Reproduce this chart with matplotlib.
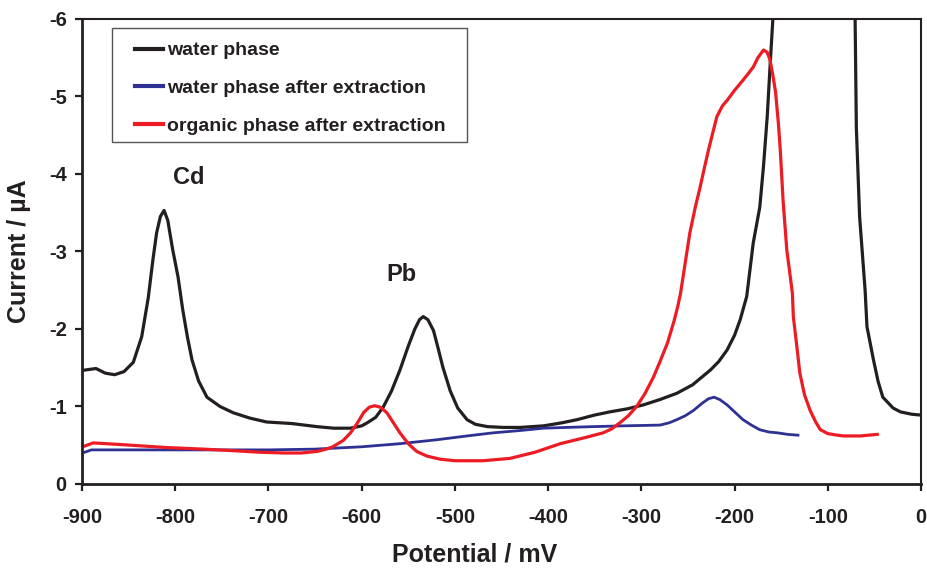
import matplotlib
matplotlib.use('Agg')
import matplotlib.pyplot as plt
from matplotlib.patches import Rectangle

plt.rcParams['font.family'] = ['Liberation Sans', 'DejaVu Sans']
plt.rcParams['font.weight'] = 'bold'
plt.rcParams['axes.unicode_minus'] = False

# water phase (black), values past -6 run off the top of the plot
water_x = [-897, -885, -875, -865, -855, -845, -836, -829, -824, -820, -816, -812,
           -808, -803, -797, -792, -787, -782, -775, -766, -752, -738, -720, -702,
           -675, -648, -630, -612, -600, -594, -585, -577, -568, -559, -550, -543,
           -538, -534, -529, -523, -518, -513, -505, -497, -487, -478, -465, -448,
           -430, -405, -385, -369, -350, -334, -315, -298, -280, -262, -245, -226,
           -217, -208, -200, -194, -187, -180, -173, -169, -165, -162, -159, -157,
           -115, -71, -69.4, -65.9, -60, -58, -51, -46, -41, -30, -22, -10, -1]
water_y = [-1.47, -1.49, -1.43, -1.41, -1.45, -1.57, -1.90, -2.40, -2.89, -3.24, -3.45, -3.53,
           -3.40, -3.04, -2.67, -2.25, -1.90, -1.60, -1.33, -1.12, -1.00, -0.92, -0.85, -0.80,
           -0.78, -0.74, -0.72, -0.72, -0.75, -0.79, -0.86, -0.99, -1.20, -1.47, -1.78, -2.00,
           -2.12, -2.16, -2.12, -1.98, -1.75, -1.51, -1.20, -0.98, -0.83, -0.77, -0.74, -0.73,
           -0.73, -0.75, -0.79, -0.83, -0.89, -0.93, -0.97, -1.02, -1.09, -1.17, -1.28, -1.47,
           -1.58, -1.73, -1.92, -2.12, -2.42, -3.11, -3.57, -4.10, -4.74, -5.38, -5.99, -6.3,
           -7.5, -6.3, -4.6, -3.45, -2.5, -2.03, -1.6, -1.32, -1.12, -0.98, -0.93, -0.90, -0.89]

# water phase after extraction (blue)
wext_x = [-897, -890, -860, -800, -750, -700, -650, -600, -559, -520, -487, -459,
          -430, -405, -380, -352, -320, -280, -270, -262, -253, -244, -235, -228,
          -222, -216, -208, -200, -191, -182, -173, -163, -154, -143, -132]
wext_y = [-0.41, -0.44, -0.44, -0.44, -0.44, -0.44, -0.45, -0.48, -0.52, -0.57, -0.62, -0.66,
          -0.69, -0.72, -0.73, -0.74, -0.75, -0.76, -0.79, -0.83, -0.88, -0.95, -1.04, -1.10,
          -1.12, -1.09, -1.02, -0.93, -0.83, -0.76, -0.70, -0.67, -0.66, -0.64, -0.63]

# organic phase after extraction (red)
org_x = [-897, -888, -860, -809, -770, -738, -710, -684, -665, -648, -638, -631,
         -620, -612, -605, -598, -592, -586, -580, -573, -566, -559, -550, -541,
         -530, -516, -500, -484, -470, -441, -414, -387, -360, -341, -332, -323,
         -314, -305, -296, -287, -280, -272, -265, -261, -258, -253, -248, -242,
         -237, -232, -228, -223, -219, -213, -208, -200, -191, -185, -180, -175,
         -169, -165, -162, -159, -156, -153, -151, -148, -144, -140, -138, -137,
         -133, -130, -125, -119, -113, -108, -100, -90, -83, -65, -47]
org_y = [-0.49, -0.53, -0.51, -0.47, -0.45, -0.43, -0.41, -0.40, -0.40, -0.42, -0.45, -0.48,
         -0.56, -0.66, -0.78, -0.92, -0.99, -1.01, -0.99, -0.92, -0.79, -0.66, -0.52, -0.42,
         -0.36, -0.32, -0.30, -0.30, -0.30, -0.33, -0.41, -0.52, -0.60, -0.66, -0.71, -0.79,
         -0.88, -1.00, -1.17, -1.38, -1.58, -1.82, -2.10, -2.29, -2.46, -2.85, -3.24, -3.58,
         -3.83, -4.10, -4.31, -4.55, -4.74, -4.88, -4.95, -5.08, -5.21, -5.30, -5.38, -5.50,
         -5.60, -5.57, -5.47, -5.28, -5.05, -4.65, -4.31, -3.66, -3.02, -2.65, -2.46, -2.16,
         -1.75, -1.43, -1.15, -0.95, -0.80, -0.70, -0.65, -0.63, -0.62, -0.62, -0.64]

series_labels = ['water phase', 'water phase after extraction', 'organic phase after extraction']
x_ticks = list(range(-900, 1, 100))
y_ticks = [0, -1, -2, -3, -4, -5, -6]

INK = '#231f20'
BLUE = '#2e3192'
RED = '#ed1c24'

fig = plt.figure(figsize=(9.28, 5.70), dpi=100)
ax = fig.add_axes([0.0884, 0.1509, 0.9041, 0.8158])

ax.plot(water_x, water_y, color=INK, lw=2.3, label=series_labels[0])
ax.plot(wext_x, wext_y, color=BLUE, lw=2.0, label=series_labels[1])
ax.plot(org_x, org_y, color=RED, lw=2.3, label=series_labels[2])

ax.set_xlim(-900, 0)
ax.set_ylim(0, -6)
ax.set_xticks(x_ticks)
ax.set_yticks(y_ticks)
ax.tick_params(axis='both', direction='out', length=5, width=1.6, colors=INK, labelsize=14.5)
ax.tick_params(axis='x', pad=12)
ax.tick_params(axis='y', pad=6)
for side in ['left', 'bottom']:
    ax.spines[side].set_linewidth(2.0)
for side in ['top', 'right']:
    ax.spines[side].set_linewidth(1.5)
for sp in ax.spines.values():
    sp.set_color(INK)

ax.set_xlabel('Potential / mV', fontsize=18, fontweight='bold', color=INK)
ax.set_ylabel('Current / µA', fontsize=18, fontweight='bold', color=INK)
ax.xaxis.set_label_coords(0.468, -0.126)
ax.yaxis.set_label_coords(-0.061, 0.5)

ax.text(-786, -3.95, 'Cd', fontsize=17, fontweight='bold', color=INK, ha='center', va='center')
ax.text(-557, -2.70, 'Pb', fontsize=17, fontweight='bold', color=INK, ha='center', va='center')

# legend frame drawn separately so the padding can match
ax.add_patch(Rectangle((0.0358, 0.7355), 0.423, 0.245, transform=ax.transAxes,
                       facecolor='white', edgecolor='#555555', lw=1.0, zorder=4))
leg = ax.legend(loc='upper left', bbox_to_anchor=(0.0632, 0.951), borderaxespad=0,
                borderpad=0, frameon=False, fontsize=14, handlelength=1.45,
                handletextpad=0.2, labelspacing=1.04)
leg.set_zorder(5)
for line in leg.get_lines():
    line.set_linewidth(3.0)
for t in leg.get_texts():
    t.set_color(INK)

fig.savefig('out.png', dpi=100)
